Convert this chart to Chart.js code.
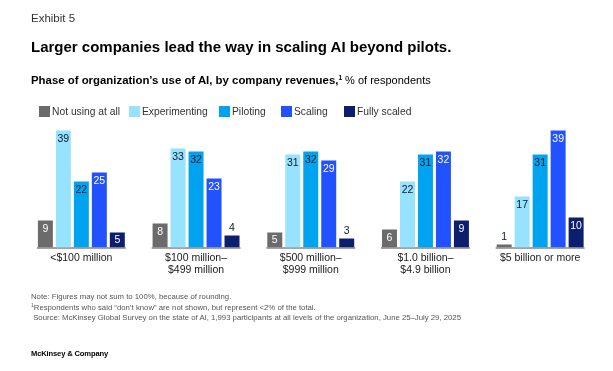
<!DOCTYPE html>
<html>
<head>
<meta charset="utf-8">
<script src="https://cdn.jsdelivr.net/npm/chart.js@4"></script>
<style>
  html, body { margin: 0; padding: 0; background: #fff; }
  body { width: 613px; height: 371px; position: relative; overflow: hidden; font-family: "Liberation Sans", Arial, sans-serif; color: #051c2c; }
  #wrap { position: absolute; left: 0; top: 0; width: 613px; height: 371px; }
  .t { position: absolute; white-space: nowrap; }
  #exhibit { left: 31px; top: 12px; font-size: 11.5px; color: #333; }
  #title { left: 31px; top: 37.5px; font-size: 15px; font-weight: bold; color: #000; }
  #subtitle { left: 31px; top: 69.5px; color: #000; }
  #subtitle b { font-weight: bold; font-size: 11.4px; }
  #subtitle .r { font-size: 11px; }
  #subtitle sup { font-size: 6.5px; vertical-align: 4px; font-weight: bold; }
  #legend { left: 0; top: 105.5px; font-size: 10.3px; color: #333; }
  .li { position: absolute; top: 0; height: 11px; line-height: 11px; }
  .sw { position: absolute; left: 0; top: 0; width: 11px; height: 11px; }
  .li span { position: absolute; left: 13px; top: 0; }
  #notes { left: 31px; top: 292px; font-size: 7.75px; color: #555; line-height: 9.3px; }
  #brand { left: 31px; top: 349px; font-size: 7.6px; font-weight: bold; color: #000; letter-spacing: -0.15px; }
</style>
</head>
<body>
<div id="wrap"><canvas id="c" width="613" height="371"></canvas></div>
<div class="t" id="exhibit">Exhibit 5</div>
<div class="t" id="title">Larger companies lead the way in scaling AI beyond pilots.</div>
<div class="t" id="subtitle"><b>Phase of organization’s use of AI, by company revenues,</b><sup>1</sup><span class="r"> % of respondents</span></div>
<div class="t" id="legend"></div>
<div class="t" id="notes">Note: Figures may not sum to 100%, because of rounding.<br><sup style="font-size:5px;vertical-align:3px">1</sup>Respondents who said “don’t know” are not shown, but represent &lt;2% of the total.<br>&nbsp;Source: McKinsey Global Survey on the state of AI, 1,993 participants at all levels of the organization, June 25–July 29, 2025</div>
<div class="t" id="brand">McKinsey &amp; Company</div>
<script>
// ---- data ----
const categories = [
  ["<$100 million"],
  ["$100 million–", "$499 million"],
  ["$500 million–", "$999 million"],
  ["$1.0 billion–", "$4.9 billion"],
  ["$5 billion or more"]
];
const seriesNames = ["Not using at all", "Experimenting", "Piloting", "Scaling", "Fully scaled"];
const notUsing      = [9, 8, 5, 6, 1];
const experimenting = [39, 33, 31, 22, 17];
const piloting      = [22, 32, 32, 31, 31];
const scaling       = [25, 23, 29, 32, 39];
const fullyScaled   = [5, 4, 3, 9, 10];

const seriesValues = [notUsing, experimenting, piloting, scaling, fullyScaled];
const seriesColors = ["#6b6b6b", "#96e2ff", "#00a3f0", "#2251ff", "#0c1e6e"];
const labelColors  = ["#ffffff", "#0a1a2a", "#0a1a2a", "#ffffff", "#ffffff"];

// legend (HTML)
const legendPos = [39, 129, 219, 281, 344];
const legendEl = document.getElementById('legend');
seriesNames.forEach((n, i) => {
  const d = document.createElement('div');
  d.className = 'li';
  d.style.left = legendPos[i] + 'px';
  d.innerHTML = '<div class="sw" style="background:' + seriesColors[i] + '"></div><span>' + n + '</span>';
  legendEl.appendChild(d);
});

const groupBase = {
  id: 'groupBase',
  beforeDatasetsDraw(chart) {
    const ctx = chart.ctx;
    const n = chart.data.labels.length;
    const first = chart.getDatasetMeta(0).data;
    const last = chart.getDatasetMeta(chart.data.datasets.length - 1).data;
    ctx.save();
    ctx.strokeStyle = '#a3a3a3';
    ctx.lineWidth = 2;
    for (let i = 0; i < n; i++) {
      const l = first[i].x - first[i].width / 2 - 1;
      const r = last[i].x + last[i].width / 2 + 1;
      const y = chart.chartArea.bottom + 0.5;
      ctx.beginPath(); ctx.moveTo(l, y); ctx.lineTo(r, y); ctx.stroke();
    }
    ctx.restore();
  },
  afterDatasetsDraw(chart) {
    const ctx = chart.ctx;
    ctx.save();
    ctx.font = '10.5px "Liberation Sans", Arial, sans-serif';
    ctx.textAlign = 'center';
    ctx.textBaseline = 'middle';
    chart.data.datasets.forEach((ds, di) => {
      chart.getDatasetMeta(di).data.forEach((el, i) => {
        const v = ds.data[i];
        const h = el.base - el.y;
        if (v >= 5) {
          ctx.fillStyle = labelColors[di];
          ctx.fillText(String(v), el.x, el.y + Math.min(9, h / 2));
        } else {
          ctx.fillStyle = '#0a1a2a';
          ctx.fillText(String(v), el.x, el.y - 7);
        }
      });
    });
    // category labels
    const xs = chart.scales.x;
    ctx.fillStyle = '#1a1a1a';
    ctx.font = '10.5px "Liberation Sans", Arial, sans-serif';
    chart.data.labels.forEach((lab, i) => {
      const x = xs.getPixelForValue(i);
      lab.forEach((line, k) => {
        ctx.fillText(line, x, chart.chartArea.bottom + 11 + k * 11.5);
      });
    });
    ctx.restore();
  }
};

new Chart(document.getElementById('c'), {
  type: 'bar',
  data: {
    labels: categories,
    datasets: seriesNames.map((n, i) => ({
      label: n,
      data: seriesValues[i],
      backgroundColor: seriesColors[i],
      borderWidth: 0,
      categoryPercentage: 0.784,
      barPercentage: 0.833
    }))
  },
  options: {
    responsive: false,
    animation: false,
    layout: { padding: { left: 24, right: 15.5, top: 127.5, bottom: 123.5 } },
    plugins: { legend: { display: false }, tooltip: { enabled: false } },
    scales: {
      x: { display: false },
      y: { display: false, min: 0, max: 40 }
    }
  },
  plugins: [groupBase]
});
</script>
</body>
</html>
